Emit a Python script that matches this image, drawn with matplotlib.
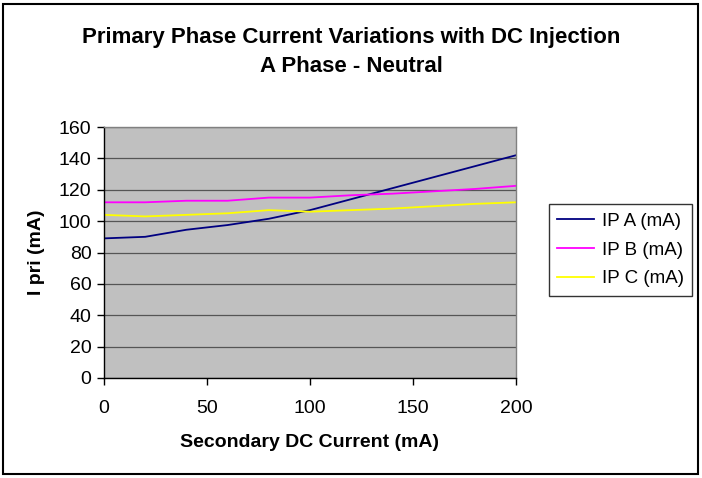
import matplotlib
matplotlib.use("Agg")
import matplotlib.pyplot as plt
from matplotlib.patches import Rectangle

x_vals = [0, 20, 40, 60, 80, 100, 120, 140, 160, 180, 200]
ip_a = [89, 90, 94.5, 97.5, 101.5, 107, 114, 121, 128, 135, 142]
ip_b = [112, 112, 113, 113, 115, 115, 116.5, 117.5, 119, 120.5, 122.5]
ip_c = [104, 103, 104, 105, 107, 106, 107, 108, 109.5, 111, 112]
series_names = ["IP A (mA)", "IP B (mA)", "IP C (mA)"]
series_colors = ["#000080", "#FF00FF", "#FFFF00"]
x_ticks = [0, 50, 100, 150, 200]
y_ticks = [0, 20, 40, 60, 80, 100, 120, 140, 160]

plt.rcParams['font.family'] = ['Liberation Sans', 'DejaVu Sans']

fig = plt.figure(figsize=(7.02, 4.78), dpi=100)
fig.patches.append(Rectangle((3/702, 4/478), 695/702, 470/478, transform=fig.transFigure,
                             fill=False, edgecolor='black', linewidth=1.5))

ax = fig.add_axes([104/702, 100/478, 412/702, 251/478])
ax.set_facecolor('#C0C0C0')
for ys, name, col in zip([ip_a, ip_b, ip_c], series_names, series_colors):
    ax.plot(x_vals, ys, color=col, linewidth=1.3, label=name)

ax.set_xlim(0, 200)
ax.set_ylim(0, 160)
ax.set_xticks(x_ticks)
ax.set_yticks(y_ticks)
ax.grid(axis='y', color='#555555', linewidth=0.9)
ax.set_axisbelow(True)
ax.tick_params(axis='both', direction='out', length=5, width=1, labelsize=14, pad=4, color='black')
ax.tick_params(axis='x', pad=11)
for s in ['left', 'bottom']:
    ax.spines[s].set_color('black')
    ax.spines[s].set_linewidth(1)
for s in ['top', 'right']:
    ax.spines[s].set_color('#808080')
    ax.spines[s].set_linewidth(1)

ax.set_xlabel("Secondary DC Current (mA)", fontsize=14, fontweight='bold', labelpad=12)
ax.set_ylabel("I pri (mA)", fontsize=14, fontweight='bold', labelpad=10)

fig.text(351/702, 1 - 38/478, "Primary Phase Current Variations with DC Injection",
         ha='center', va='center', fontsize=16, fontweight='bold')
fig.text(351/702, 1 - 66/478, "A Phase - Neutral",
         ha='center', va='center', fontsize=16, fontweight='bold')

leg = fig.legend(loc='center left', bbox_to_anchor=(549/702, 1 - 250/478), fontsize=13.5,
                 frameon=True, fancybox=False, edgecolor='black', handlelength=1.95,
                 borderpad=0.45, labelspacing=0.62, handletextpad=0.4, borderaxespad=0)
leg.get_frame().set_linewidth(1)

fig.savefig("out.png", dpi=100)
